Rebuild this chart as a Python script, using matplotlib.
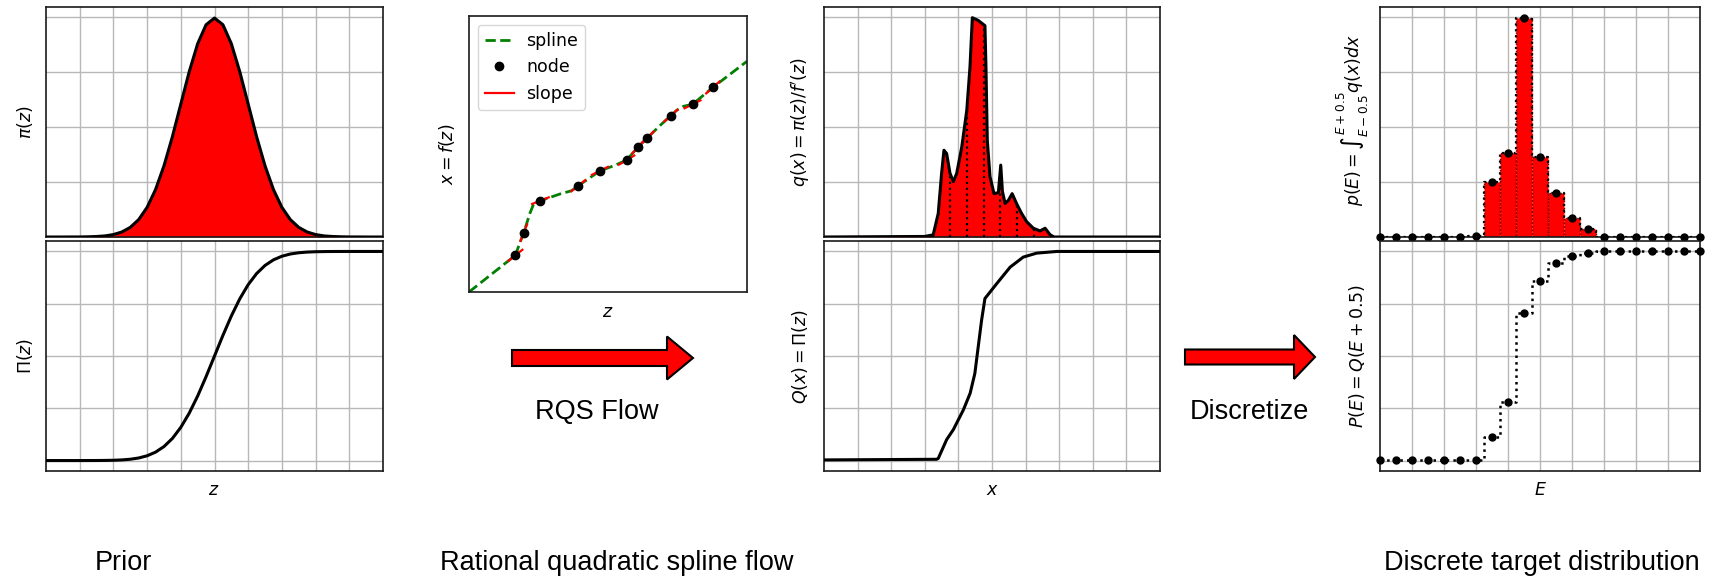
import matplotlib
matplotlib.use("Agg")
import matplotlib.pyplot as plt
from matplotlib.patches import Polygon
import numpy as np

W, H = 1710, 579

# ---------------- data ----------------
prior_z = [-5.0, -4.75, -4.5, -4.25, -4.0, -3.75, -3.5, -3.25, -3.0, -2.75, -2.5, -2.25, -2.0,
           -1.75, -1.5, -1.25, -1.0, -0.75, -0.5, -0.25, 0.0, 0.25, 0.5, 0.75, 1.0, 1.25, 1.5,
           1.75, 2.0, 2.25, 2.5, 2.75, 3.0, 3.25, 3.5, 3.75, 4.0, 4.25, 4.5, 4.75, 5.0]
prior_pdf = [0.0, 0.0, 0.0, 0.0001, 0.0001, 0.0004, 0.0009, 0.002, 0.0044, 0.0091, 0.0175, 0.0317, 0.054,
             0.0863, 0.1295, 0.1826, 0.242, 0.3011, 0.3521, 0.3867, 0.3989, 0.3867, 0.3521, 0.3011, 0.242, 0.1826, 0.1295,
             0.0863, 0.054, 0.0317, 0.0175, 0.0091, 0.0044, 0.002, 0.0009, 0.0004, 0.0001, 0.0001, 0.0, 0.0, 0.0]
prior_cdf = [0.0, 0.0, 0.0, 0.0, 0.0, 0.0001, 0.0002, 0.0006, 0.0013, 0.003, 0.0062, 0.0122, 0.0228,
             0.0401, 0.0668, 0.1056, 0.1587, 0.2266, 0.3085, 0.4013, 0.5, 0.5987, 0.6915, 0.7734, 0.8413, 0.8944, 0.9332,
             0.9599, 0.9772, 0.9878, 0.9938, 0.997, 0.9987, 0.9994, 0.9998, 0.9999, 1.0, 1.0, 1.0, 1.0, 1.0]

spline_u = [0.0, 0.167, 0.180, 0.197, 0.219, 0.231, 0.257, 0.327, 0.369, 0.393, 0.471, 0.525,
            0.567, 0.609, 0.642, 0.688, 0.726, 0.748, 0.772, 0.804, 0.877, 1.0]
spline_v = [0.0, 0.133, 0.170, 0.215, 0.285, 0.315, 0.331, 0.355, 0.367, 0.385, 0.439, 0.459,
            0.478, 0.526, 0.559, 0.604, 0.639, 0.659, 0.673, 0.680, 0.741, 0.836]
node_u = [0.167, 0.197, 0.257, 0.393, 0.471, 0.567, 0.609, 0.642, 0.726, 0.804, 0.877]
node_v = [0.133, 0.215, 0.331, 0.385, 0.439, 0.478, 0.526, 0.559, 0.639, 0.680, 0.741]
node_slope = [0.8, 2.5, 0.4, 0.8, 0.5, 0.6, 1.1, 1.0, 0.9, 0.5, 0.9]

q_x = [-5.0, -2.0, -1.75, -1.60, -1.50, -1.43, -1.35, -1.25, -1.15, -1.05, -0.90, -0.75, -0.655,
       -0.585, -0.41, -0.21, -0.18, -0.14, -0.06, 0.06, 0.19, 0.26, 0.31, 0.39, 0.49, 0.60, 0.73,
       0.88, 1.03, 1.23, 1.43, 1.58, 1.73, 1.85, 5.0]
q_vals = [0.0, 0.001, 0.004, 0.043, 0.116, 0.158, 0.152, 0.116, 0.101, 0.116, 0.164, 0.231, 0.31,
          0.3995, 0.3945, 0.385, 0.31, 0.176, 0.11, 0.079, 0.081, 0.131, 0.083, 0.061, 0.067, 0.079, 0.061,
          0.043, 0.028, 0.016, 0.011, 0.016, 0.004, 0.0, 0.0]
bin_edges = [-1.75, -1.25, -0.75, -0.25, 0.25, 0.75, 1.25, 1.75]
bin_edge_q = [0.004, 0.116, 0.231, 0.387, 0.115, 0.059, 0.015, 0.003]

Q_x = [-5.0, -1.65, -1.60, -1.35, -1.15, -0.85, -0.65, -0.51, -0.41, -0.31, -0.21, 0.14, 0.54,
       0.93, 1.33, 1.93, 5.0]
Q_vals = [0.003, 0.006, 0.01, 0.10, 0.148, 0.243, 0.322, 0.417, 0.544, 0.671, 0.775, 0.846, 0.925,
          0.973, 0.992, 1.0, 1.0]

E_vals = [-10, -9, -8, -7, -6, -5, -4, -3, -2, -1, 0, 1, 2, 3, 4, 5, 6, 7, 8, 9, 10]
p_vals = [0.0, 0.0, 0.0, 0.0, 0.0, 0.0, 0.0024, 0.1005, 0.153, 0.399, 0.146, 0.081, 0.034, 0.014,
          0.0, 0.0, 0.0, 0.0, 0.0, 0.0, 0.0]
P_vals = [0.004, 0.004, 0.004, 0.004, 0.004, 0.004, 0.004, 0.115, 0.281, 0.706, 0.861, 0.945, 0.979,
          0.995, 1.0, 1.0, 1.0, 1.0, 1.0, 1.0, 1.0]

# ---------------- figure ----------------
fig = plt.figure(figsize=(W / 100, H / 100), dpi=100)
fig.patch.set_facecolor("white")


def px_axes(l, t, r, b):
    return fig.add_axes([l / W, 1 - b / H, (r - l) / W, (b - t) / H])


def T(x, y, s, **kw):
    return fig.text(x / W, 1 - y / H, s, **kw)


def style(ax, xt, yt, grid=True):
    ax.set_xticks(xt)
    ax.set_yticks(yt)
    ax.tick_params(length=0, labelbottom=False, labelleft=False)
    if grid:
        ax.grid(True, color="#b8b8b8", lw=1.0)
    ax.set_axisbelow(True)
    for s in ax.spines.values():
        s.set_linewidth(1.2)
        s.set_color("#1a1a1a")


dens_ticks = [0.1, 0.2, 0.3, 0.4]
cdf_ticks = [0, 0.25, 0.5, 0.75, 1.0]
x_ticks = [-4, -3, -2, -1, 0, 1, 2, 3, 4]
E_ticks = [-8, -6, -4, -2, 0, 2, 4, 6, 8]

# Panel 1: prior
ax = px_axes(46, 7, 383, 237)
ax.fill_between(prior_z, prior_pdf, color="red", zorder=2, lw=0)
ax.plot(prior_z, prior_pdf, color="k", lw=2.2, zorder=3)
ax.set_xlim(-5, 5); ax.set_ylim(0, 0.419)
style(ax, x_ticks, dens_ticks)

ax = px_axes(46, 241, 383, 471)
ax.plot(prior_z, prior_cdf, color="k", lw=2.2, zorder=3)
ax.set_xlim(-5, 5); ax.set_ylim(-0.05, 1.05)
style(ax, x_ticks, cdf_ticks)

# Panel 2: spline
ax = px_axes(469, 16, 747, 292)
ax.plot(spline_u, spline_v, color="green", ls="--", lw=2, zorder=2, label="spline")
ax.plot(node_u, node_v, "o", color="k", ms=6, zorder=4, label="node")
for i, (u, v, s) in enumerate(zip(node_u, node_v, node_slope)):
    du = 0.032 / np.sqrt(1 + s * s)
    ax.plot([u - du, u + du], [v - s * du, v + s * du], color="red", lw=1.6, zorder=3,
            label="slope" if i == 0 else None)
ax.set_xlim(0, 1); ax.set_ylim(0, 1)
style(ax, [], [], grid=False)
ax.legend(loc="upper left", fontsize=12.5, handlelength=1.7, handletextpad=0.7)

# Panel 3: flow density
ax = px_axes(824, 7, 1160, 237)
ax.fill_between(q_x, q_vals, color="red", zorder=2, lw=0)
ax.plot(q_x, q_vals, color="k", lw=2.2, zorder=3)
ax.vlines(bin_edges, 0, bin_edge_q, colors="k", linestyles=":", lw=1.6, zorder=3)
ax.set_xlim(-5, 5); ax.set_ylim(0, 0.419)
style(ax, x_ticks, dens_ticks)

ax = px_axes(824, 241, 1160, 471)
ax.plot(Q_x, Q_vals, color="k", lw=2.2, zorder=3)
ax.set_xlim(-5, 5); ax.set_ylim(-0.05, 1.05)
style(ax, x_ticks, cdf_ticks)

# Panel 4: discrete
ax = px_axes(1380, 7, 1700, 237)
bar_E = [e for e, p in zip(E_vals, p_vals) if p > 0.005]
bar_p = [p for p in p_vals if p > 0.005]
ax.bar(bar_E, bar_p, width=1.0, color="red", edgecolor="#5a0000", ls=":", lw=1.0, zorder=2)
ax.step(E_vals, p_vals, where="mid", color="k", ls=":", lw=1.6, zorder=3)
ax.plot(E_vals, p_vals, "o", color="k", ms=5, zorder=4, clip_on=False)
ax.set_xlim(-10, 10); ax.set_ylim(0, 0.419)
style(ax, E_ticks, dens_ticks)

ax = px_axes(1380, 241, 1700, 471)
ax.step(E_vals, P_vals, where="mid", color="k", ls=":", lw=1.8, zorder=3)
ax.plot(E_vals, P_vals, "o", color="k", ms=5, zorder=4, clip_on=False)
ax.set_xlim(-10, 10); ax.set_ylim(-0.05, 1.05)
style(ax, E_ticks, cdf_ticks)

# ---------------- labels ----------------
fs = 12.5
T(25, 122, r"$\pi(z)$", rotation=90, ha="center", va="center", fontsize=fs)
T(25, 356, r"$\Pi(z)$", rotation=90, ha="center", va="center", fontsize=fs)
T(214, 490, r"$z$", ha="center", va="center", fontsize=fs)
T(447, 154, r"$x = f(z)$", rotation=90, ha="center", va="center", fontsize=fs)
T(608, 312, r"$z$", ha="center", va="center", fontsize=fs)
T(800, 122, r"$q(x) = \pi(z)/f'(z)$", rotation=90, ha="center", va="center", fontsize=fs)
T(800, 356, r"$Q(x) = \Pi(z)$", rotation=90, ha="center", va="center", fontsize=fs)
T(992, 490, r"$x$", ha="center", va="center", fontsize=fs)
T(1353, 120, r"$p(E) = \int_{E-0.5}^{E+0.5} q(x)dx$", rotation=90, ha="center", va="center", fontsize=fs)
T(1357, 356, r"$P(E) = Q(E + 0.5)$", rotation=90, ha="center", va="center", fontsize=fs)
T(1540, 490, r"$E$", ha="center", va="center", fontsize=fs)

sans = ["Liberation Sans", "DejaVu Sans"]
T(597, 419, "RQS Flow", ha="center", va="baseline", fontsize=19.5, family=sans)
T(1249, 419, "Discretize", ha="center", va="baseline", fontsize=19.5, family=sans)
T(123, 570, "Prior", ha="center", va="baseline", fontsize=19.5, family=sans)
T(617, 570, "Rational quadratic spline flow", ha="center", va="baseline", fontsize=19.5, family=sans)
T(1542, 570, "Discrete target distribution", ha="center", va="baseline", fontsize=19.5, family=sans)

# ---------------- arrows ----------------
ov = fig.add_axes([0, 0, 1, 1])
ov.set_xlim(0, W); ov.set_ylim(H, 0)
ov.set_axis_off()


def arrow(x0, xh, xt, yc, hb, hh):
    pts = [(x0, yc - hb), (xh, yc - hb), (xh, yc - hh), (xt, yc), (xh, yc + hh), (xh, yc + hb), (x0, yc + hb)]
    ov.add_patch(Polygon(pts, closed=True, facecolor="red", edgecolor="k", lw=1.5))


arrow(512, 667, 693, 358, 8, 21.5)
arrow(1185, 1294, 1315, 357, 7.5, 22)

fig.savefig("out.png", dpi=100)
